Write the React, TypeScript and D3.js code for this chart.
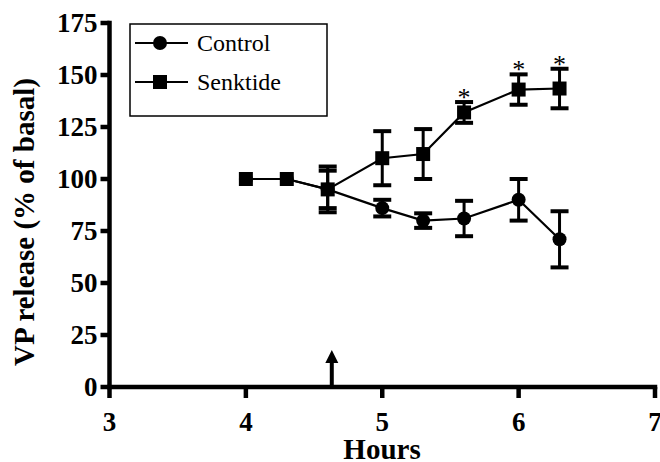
import * as d3 from 'd3';

// values
const hours = [4, 4.3, 4.6, 5, 5.3, 5.6, 6, 6.3];
const controlMean = [100, 100, 95, 86, 80, 81, 90, 71];
const controlSem = [0, 0, 9, 4, 3.5, 8.5, 10, 13.5];
const senktideMean = [100, 100, 95, 110, 112, 132, 143, 143.5];
const senktideSem = [0, 0, 11, 13, 12, 5, 7.3, 9.5];
const significant = [false, false, false, false, false, true, true, true];
const xTicks = [3, 4, 5, 6, 7];
const yTicks = [0, 25, 50, 75, 100, 125, 150, 175];
const arrowHour = 4.63;
const seriesNames = ['Control', 'Senktide'];

const FONT = 'Liberation Serif';

type Pt = { x: number; m: number; e: number };

const x = d3.scaleLinear().domain([3, 7]).range([109.5, 655]);
const y = d3.scaleLinear().domain([0, 175]).range([387, 23]);
const line = d3.line<Pt>().x(d => x(d.x)).y(d => y(d.m));

const toPts = (mean: number[], sem: number[]): Pt[] =>
  hours.map((h, i) => ({ x: h, m: mean[i], e: sem[i] }));

const Series = ({ pts, shape }: { pts: Pt[]; shape: 'circle' | 'square' }) => (
  <g>
    {pts.filter(d => d.e > 0).map((d, i) => (
      <g key={i}>
        <line x1={x(d.x)} x2={x(d.x)} y1={y(d.m - d.e)} y2={y(d.m + d.e)} stroke="#000" strokeWidth={3} />
        <line x1={x(d.x) - 9} x2={x(d.x) + 9} y1={y(d.m + d.e)} y2={y(d.m + d.e)} stroke="#000" strokeWidth={4} />
        <line x1={x(d.x) - 9} x2={x(d.x) + 9} y1={y(d.m - d.e)} y2={y(d.m - d.e)} stroke="#000" strokeWidth={4} />
      </g>
    ))}
    <path d={line(pts) ?? ''} fill="none" stroke="#000" strokeWidth={2.2} />
    {pts.map((d, i) =>
      shape === 'circle'
        ? <circle key={i} cx={x(d.x)} cy={y(d.m)} r={7} fill="#000" />
        : <rect key={i} x={x(d.x) - 7} y={y(d.m) - 7} width={14} height={14} fill="#000" />
    )}
  </g>
);

const App = () => {
  const control = toPts(controlMean, controlSem);
  const senktide = toPts(senktideMean, senktideSem);
  const ax = x(arrowHour);
  const bold = { fontFamily: FONT, fontWeight: 'bold' as const };

  return (
    <svg width={660} height={462} style={{ position: 'absolute', left: 0, top: 0, background: '#fff' }}>
      {/* y axis */}
      <line x1={x(3)} x2={x(3)} y1={y(175)} y2={y(0)} stroke="#000" strokeWidth={4.5} strokeLinecap="square" />
      {yTicks.map(t => (
        <g key={t}>
          <line x1={x(3) - 9} x2={x(3)} y1={y(t)} y2={y(t)} stroke="#000" strokeWidth={4.5} />
          <text x={x(3) - 12} y={y(t)} dy="0.34em" textAnchor="end" style={{ ...bold, fontSize: 27 }}>{t}</text>
        </g>
      ))}

      {/* x axis */}
      <line x1={x(3)} x2={x(7)} y1={y(0)} y2={y(0)} stroke="#000" strokeWidth={4.5} strokeLinecap="square" />
      {xTicks.map(t => (
        <g key={t}>
          <line x1={x(t)} x2={x(t)} y1={y(0)} y2={y(0) + 11} stroke="#000" strokeWidth={4.5} />
          <text x={x(t)} y={431} textAnchor="middle" style={{ ...bold, fontSize: 27 }}>{t}</text>
        </g>
      ))}

      <text transform="translate(34,222) rotate(-90)" textAnchor="middle" style={{ ...bold, fontSize: 29 }}>
        VP release (% of basal)
      </text>
      <text x={382} y={459} textAnchor="middle" style={{ ...bold, fontSize: 29 }}>Hours</text>

      {/* arrow marking senktide application */}
      <line x1={ax} x2={ax} y1={y(0)} y2={360} stroke="#000" strokeWidth={4} />
      <path d={`M${ax},350 L${ax - 6.5},363 L${ax + 6.5},363 Z`} fill="#000" />

      <Series pts={control} shape="circle" />
      <Series pts={senktide} shape="square" />

      {senktide.filter((_, i) => significant[i]).map((d, i) => (
        <text key={i} x={x(d.x)} y={y(d.m + d.e) + 4} textAnchor="middle" style={{ fontFamily: FONT, fontSize: 26 }}>*</text>
      ))}

      {/* legend */}
      <rect x={130} y={24} width={197} height={92} fill="#fff" stroke="#000" strokeWidth={1.5} />
      {seriesNames.map((name, i) => {
        const ly = 43 + i * 39;
        return (
          <g key={name}>
            <line x1={135} x2={188} y1={ly} y2={ly} stroke="#000" strokeWidth={2} />
            {i === 0
              ? <circle cx={160} cy={ly} r={7} fill="#000" />
              : <rect x={153} y={ly - 7} width={14} height={14} fill="#000" />}
            <text x={197} y={ly} dy="0.35em" style={{ fontFamily: FONT, fontSize: 24 }}>{name}</text>
          </g>
        );
      })}
    </svg>
  );
};

export default App;
